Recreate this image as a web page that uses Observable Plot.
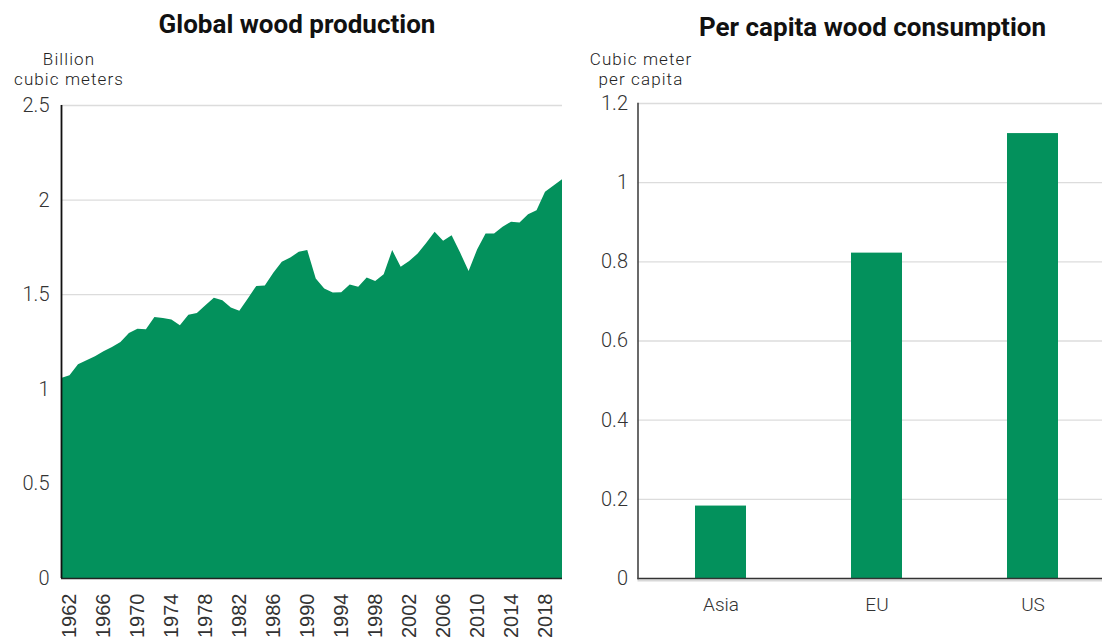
<!DOCTYPE html>
<html><head><meta charset="utf-8">
<script src="https://cdn.jsdelivr.net/npm/d3@7"></script>
<script src="https://cdn.jsdelivr.net/npm/@observablehq/plot@0.6"></script>
<style>
body{margin:0;background:#fff;width:1102px;height:638px;overflow:hidden;position:relative;font-family:Roboto,"Open Sans",sans-serif;}
.title{position:absolute;font-weight:bold;font-size:26px;line-height:26px;color:#111;text-align:center;white-space:nowrap;}
.unit{position:absolute;font-size:17px;line-height:20px;height:20px;color:#222;text-align:center;white-space:nowrap;font-weight:300;letter-spacing:1.1px;}
#left{position:absolute;left:0;top:0;}
#right{position:absolute;left:565px;top:0;}
</style></head><body>
<div class="title" style="left:0;width:594px;top:11px">Global wood production</div>
<div class="title" style="left:600px;width:545px;top:14px">Per capita wood consumption</div>
<div class="unit" style="left:0;width:138px;top:49px">Billion</div>
<div class="unit" style="left:0;width:138px;top:69px">cubic meters</div>
<div class="unit" style="left:570px;width:142px;top:49px">Cubic meter</div>
<div class="unit" style="left:570px;width:142px;top:69px">per capita</div>
<div id="left"></div>
<div id="right"></div>
<script>
// Global wood production (billion cubic meters)
const years = [1961,1962,1963,1964,1965,1966,1967,1968,1969,1970,
  1971,1972,1973,1974,1975,1976,1977,1978,1979,1980,
  1981,1982,1983,1984,1985,1986,1987,1988,1989,1990,
  1991,1992,1993,1994,1995,1996,1997,1998,1999,2000,
  2001,2002,2003,2004,2005,2006,2007,2008,2009,2010,
  2011,2012,2013,2014,2015,2016,2017,2018,2019,2020];
const production = [1.057,1.071,1.130,1.151,1.172,1.198,1.221,1.248,1.295,1.318,
  1.315,1.380,1.374,1.366,1.336,1.392,1.401,1.442,1.481,1.468,
  1.430,1.412,1.477,1.544,1.546,1.613,1.671,1.694,1.724,1.733,
  1.583,1.530,1.509,1.510,1.551,1.539,1.588,1.570,1.606,1.733,
  1.645,1.675,1.715,1.770,1.830,1.782,1.811,1.720,1.623,1.736,
  1.821,1.821,1.856,1.883,1.879,1.922,1.944,2.041,2.075,2.107];
const yearTicks = [1962,1966,1970,1974,1978,1982,1986,1990,1994,1998,2002,2006,2010,2014,2018];
const leftYTicks = [0,0.5,1,1.5,2,2.5];

// Per capita wood consumption (cubic meter per capita)
const regions = ["Asia","EU","US"];
const perCapita = [0.183,0.822,1.124];
const rightYTicks = [0,0.2,0.4,0.6,0.8,1,1.2];

const green = "#03915c";
const fmt = d3.format("~g");

const prodData = years.map((y,i)=>({year:y, value:production[i]}));
const capData = regions.map((r,i)=>({region:r, value:perCapita[i]}));

const left = Plot.plot({
  width: 565, height: 638,
  marginLeft: 61, marginRight: 3, marginTop: 105, marginBottom: 60,
  style: {fontFamily: "Roboto", background: "transparent", overflow: "visible"},
  x: {domain: [1961, 2020]},
  y: {domain: [0, 2.5]},
  marks: [
    Plot.ruleY(leftYTicks.filter(d=>d>0), {stroke:"#dcdcdc", strokeWidth:1.3}),
    Plot.areaY(prodData, {x:"year", y:"value", fill:green}),
    Plot.ruleY([0], {stroke:"#222", strokeWidth:1.6}),
    Plot.ruleX([1961], {stroke:"#111", strokeWidth:1.8}),
    Plot.axisX({ticks: yearTicks, tickFormat:"d", tickRotate:-90, tickSize:0, tickPadding:15,
      fontSize:20, fontFamily:"Liberation Sans", fill:"#333", label:null}),
    Plot.axisY({ticks: leftYTicks, tickFormat: fmt, tickSize:0, tickPadding:12,
      fontSize:20, fontWeight:300, fill:"#333", label:null})
  ]
});
document.getElementById("left").appendChild(left);

const right = Plot.plot({
  width: 537, height: 638,
  marginLeft: 72.5, marginRight: 0, marginTop: 103, marginBottom: 60,
  style: {fontFamily: "Roboto", background: "transparent", overflow: "visible"},
  x: {domain: regions, range: [72.5, 549.5], paddingInner: 0.674, paddingOuter: 0.361},
  y: {domain: [0, 1.2]},
  marks: [
    Plot.ruleY(rightYTicks.filter(d=>d>0), {stroke:"#dcdcdc", strokeWidth:1.3}),
    Plot.barY(capData, {x:"region", y:"value", fill:green}),
    Plot.ruleY([0], {stroke:"#d8d8d8", strokeWidth:2, dy:2}),
    Plot.ruleY([0], {stroke:"#333", strokeWidth:1.6}),
    Plot.frame({anchor:"left", stroke:"#444", strokeWidth:1.6}),
    Plot.axisX({tickSize:0, tickPadding:19, fontSize:19, fontWeight:300, fill:"#333", label:null}),
    Plot.axisY({ticks: rightYTicks, tickFormat: fmt, tickSize:0, tickPadding:10,
      fontSize:20, fontWeight:300, fill:"#333", label:null})
  ]
});
document.getElementById("right").appendChild(right);
</script>
</body></html>
